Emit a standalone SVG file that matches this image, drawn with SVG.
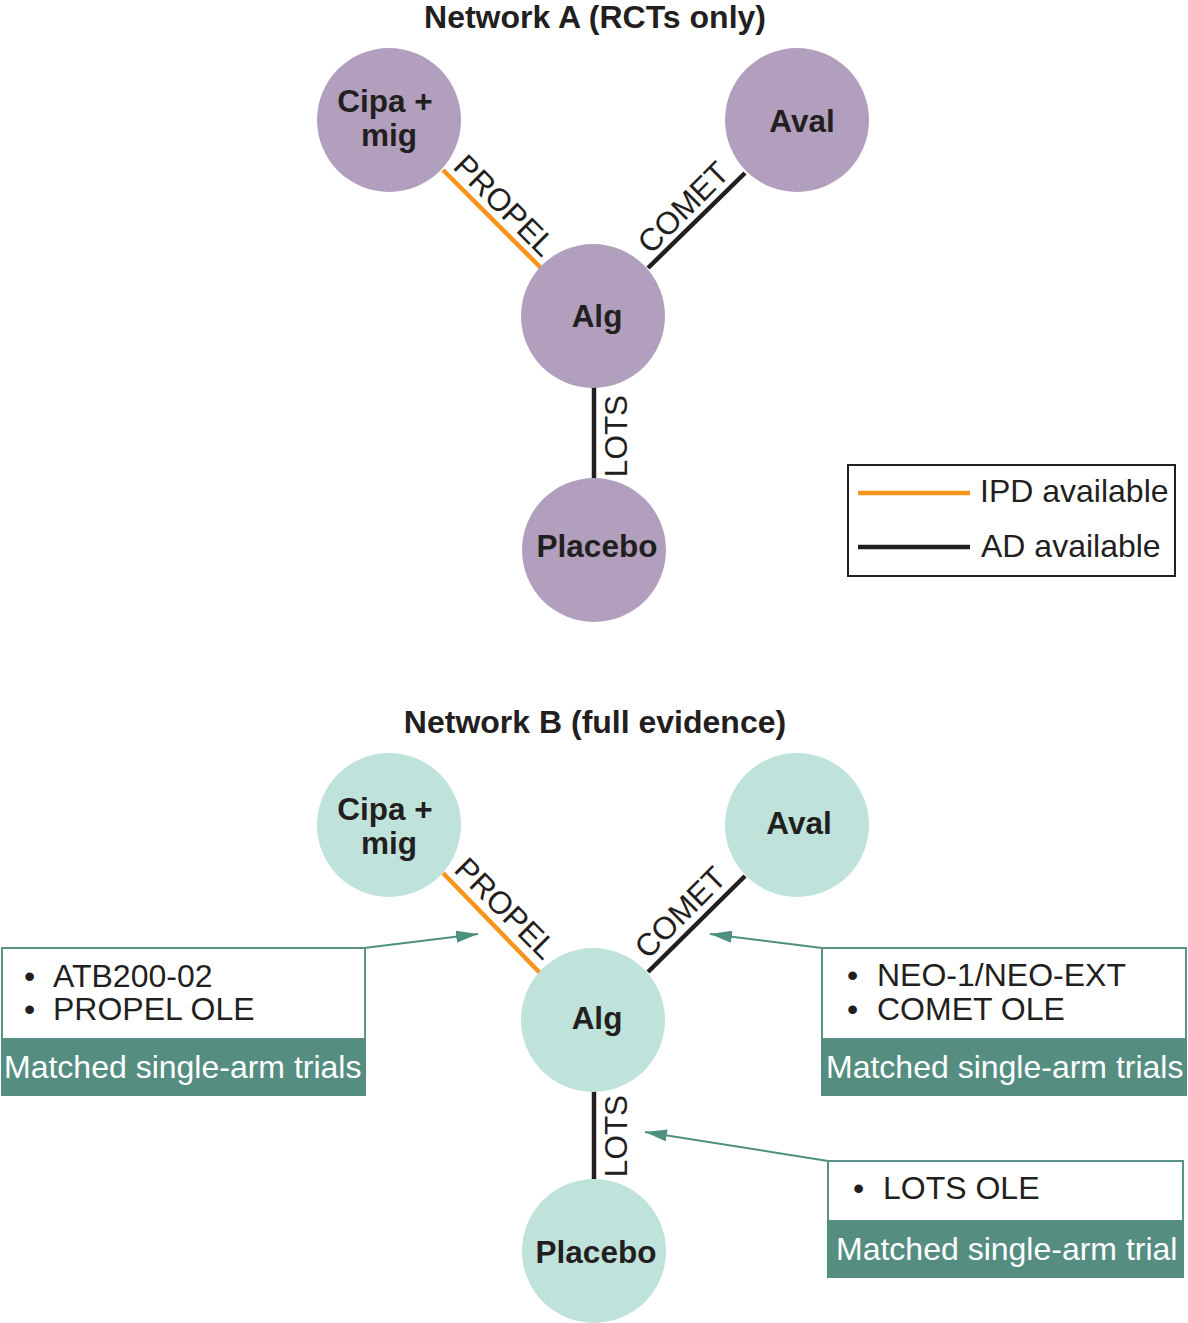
<svg xmlns="http://www.w3.org/2000/svg" width="1188" height="1323" viewBox="0 0 1188 1323">
<style>
.title{font-family:"Liberation Sans",Arial,sans-serif;font-weight:bold;font-size:32px;fill:#231f20;text-anchor:middle}
.nlab{font-family:"Liberation Sans",Arial,sans-serif;font-weight:bold;font-size:31.5px;fill:#231f20;text-anchor:middle}
.elab{font-family:"Liberation Sans",Arial,sans-serif;font-size:31.5px;fill:#231f20;text-anchor:middle}
.body{font-family:"Liberation Sans",Arial,sans-serif;font-size:32px;fill:#231f20}
.bar{font-family:"Liberation Sans",Arial,sans-serif;font-size:32px;fill:#ffffff}
.pa{fill:#b19fbd}
.pb{fill:#bfe3da}
.ipd{stroke:#f7941d;stroke-width:4.5;fill:none}
.ad{stroke:#231f20;stroke-width:4.5;fill:none}
.call{stroke:#4e9080;stroke-width:2;fill:none}
.boxw{fill:#ffffff;stroke:#5a9385;stroke-width:2}
.boxt{fill:#558e80}
</style>
<defs>
<marker id="ah" viewBox="0 0 22 12" refX="22" refY="6" markerWidth="22" markerHeight="12" markerUnits="userSpaceOnUse" orient="auto">
<path d="M0,0 L22,6 L0,12 z" fill="#4e9080"/>
</marker>
</defs>

<text class="title" x="595" y="28">Network A (RCTs only)</text>
<text class="title" x="595" y="733">Network B (full evidence)</text>

<g id="connectors">
<line class="ipd" x1="443" y1="170" x2="541" y2="268"/>
<line class="ad" x1="745" y1="173" x2="648" y2="268"/>
<line class="ad" x1="594" y1="386" x2="594" y2="480"/>
<text class="elab" transform="translate(497,213) rotate(45)">PROPEL</text>
<text class="elab" transform="translate(691,215) rotate(-45)">COMET</text>
<text class="elab" transform="translate(627,436) rotate(-90)">LOTS</text>

<line class="ipd" x1="443" y1="873" x2="540" y2="973"/>
<line class="ad" x1="745" y1="876" x2="648" y2="972"/>
<line class="ad" x1="594" y1="1090" x2="594" y2="1180"/>
<text class="elab" transform="translate(498,916) rotate(45)">PROPEL</text>
<text class="elab" transform="translate(688,920) rotate(-45)">COMET</text>
<text class="elab" transform="translate(627,1136) rotate(-90)">LOTS</text>

<line class="call" x1="364" y1="948" x2="478" y2="934" marker-end="url(#ah)"/>
<line class="call" x1="822" y1="948" x2="710" y2="934" marker-end="url(#ah)"/>
<line class="call" x1="828" y1="1161" x2="645" y2="1132" marker-end="url(#ah)"/>
</g>

<g id="a-cipa"><circle class="pa" cx="389" cy="120" r="72"/><text class="nlab" x="385" y="112">Cipa +</text><text class="nlab" x="389" y="146">mig</text></g>
<g id="a-aval"><circle class="pa" cx="797" cy="120" r="72"/><text class="nlab" x="802" y="132">Aval</text></g>
<g id="a-alg"><circle class="pa" cx="593" cy="316" r="72"/><text class="nlab" x="597" y="327">Alg</text></g>
<g id="a-placebo"><circle class="pa" cx="594" cy="550" r="72"/><text class="nlab" x="597" y="557">Placebo</text></g>

<g id="legend">
<rect x="848" y="465" width="327" height="111" fill="#ffffff" stroke="#231f20" stroke-width="2"/>
<line class="ipd" x1="858" y1="493" x2="970" y2="493" stroke-width="4"/>
<line class="ad" x1="858" y1="547" x2="970" y2="547" stroke-width="4"/>
<text class="body" x="980" y="502">IPD available</text>
<text class="body" x="981" y="557">AD available</text>
</g>

<g id="b-cipa"><circle class="pb" cx="389" cy="825" r="72"/><text class="nlab" x="385" y="820">Cipa +</text><text class="nlab" x="389" y="854">mig</text></g>
<g id="b-aval"><circle class="pb" cx="797" cy="825" r="72"/><text class="nlab" x="799" y="834">Aval</text></g>
<g id="b-alg"><circle class="pb" cx="593" cy="1020" r="72"/><text class="nlab" x="597" y="1029">Alg</text></g>
<g id="b-placebo"><circle class="pb" cx="594" cy="1251" r="72"/><text class="nlab" x="596" y="1263">Placebo</text></g>

<g id="box-left">
<rect class="boxw" x="2" y="948" width="363" height="91"/>
<rect class="boxt" x="1" y="1039" width="365" height="57"/>
<text class="body" x="24" y="987">•</text><text class="body" x="53" y="987">ATB200-02</text>
<text class="body" x="24" y="1020">•</text><text class="body" x="53" y="1020">PROPEL OLE</text>
<text class="bar" x="4" y="1078">Matched single-arm trials</text>
</g>

<g id="box-right">
<rect class="boxw" x="822" y="948" width="364" height="91"/>
<rect class="boxt" x="821" y="1039" width="366" height="57"/>
<text class="body" x="847" y="986">•</text><text class="body" x="877" y="986">NEO-1/NEO-EXT</text>
<text class="body" x="847" y="1020">•</text><text class="body" x="877" y="1020">COMET OLE</text>
<text class="bar" x="826" y="1078">Matched single-arm trials</text>
</g>

<g id="box-lower">
<rect class="boxw" x="828" y="1161" width="355" height="60"/>
<rect class="boxt" x="827" y="1221" width="357" height="57"/>
<text class="body" x="853" y="1199">•</text><text class="body" x="883" y="1199">LOTS OLE</text>
<text class="bar" x="836" y="1260">Matched single-arm trial</text>
</g>
</svg>
